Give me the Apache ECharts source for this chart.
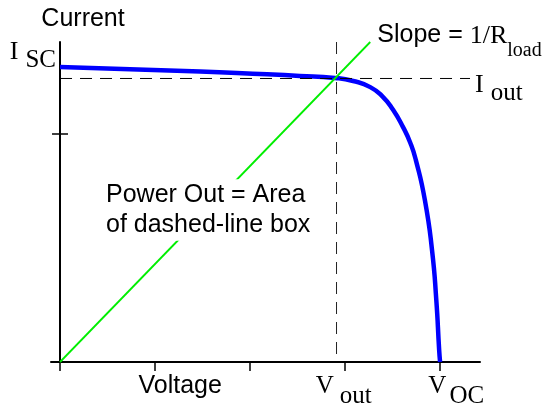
<!DOCTYPE html>
<html>
<head>
<meta charset="utf-8">
<script src="https://cdn.jsdelivr.net/npm/echarts@6/dist/echarts.min.js"></script>
<style>
  html, body { margin: 0; padding: 0; background: #fff; }
  #main { width: 546px; height: 409px; }
</style>
</head>
<body>
<div id="main"></div>
<script>
// I-V curve of a solar cell, arbitrary units
var curveV = [0, 29.5, 50.5, 57.9, 61.7, 65.3, 68.0, 70.1, 72.2, 73.7, 74.9, 76.8, 78.3, 79.2, 79.8, 80];
var curveI = [92.2, 90.8, 89.4, 88.75, 87.8, 85.9, 82.8, 78.8, 73.4, 68.6, 63.1, 50.6, 35.0, 19.4, 3.8, 0];
var loadV = [0, 65.3];
var loadI = [0, 100];
var vOut = 58.2, iOut = 88.6;
var boxEndV = 86.3;
var xTicks = [0, 20, 40, 60, 80];
var yTicks = [71.25];
var xLabelPos = [25.3, 59.7, 83.4];
var xLabelText = ['{s|Voltage}', '{v|V}{sub|out}', '{v|V}{sub2|OC}'];

var sans = 'Liberation Sans', serif = 'Liberation Serif';

function pairs(xs, ys) {
    return xs.map(function (x, i) { return [x, ys[i]]; });
}

var myChart = echarts.init(document.getElementById('main'));

var option = {
    animation: false,
    grid: { left: 51, right: 66, top: 42, bottom: 47, outerBoundsMode: 'none' },
    xAxis: [{
        type: 'value', min: -1.9, max: 88.4,
        axisLine: { onZero: true, lineStyle: { color: '#000', width: 2 } },
        axisTick: { show: true, length: 8, customValues: xTicks, lineStyle: { color: '#000', width: 1.5 } },
        splitLine: { show: false },
        axisLabel: {
            show: true, margin: 12, customValues: xLabelPos,
            formatter: function (v) { return xLabelText[xLabelPos.indexOf(v)] || ''; },
            rich: {
                s: { fontFamily: sans, fontSize: 25, lineHeight: 25, color: '#000', verticalAlign: 'top' },
                v: { fontFamily: serif, fontSize: 25, lineHeight: 25, color: '#000', verticalAlign: 'top' },
                sub: { fontFamily: serif, fontSize: 25, lineHeight: 35, color: '#000', verticalAlign: 'bottom', padding: [0, 0, 0, 6] },
                sub2: { fontFamily: serif, fontSize: 25, lineHeight: 35, color: '#000', verticalAlign: 'bottom', padding: [0, 0, 0, 3] }
            }
        }
    }, {
        type: 'value', min: -1.9, max: 88.4,
        axisLine: { show: false },
        axisTick: { show: true, inside: true, length: 9, customValues: xTicks, lineStyle: { color: '#000', width: 1.5 } },
        splitLine: { show: false },
        axisLabel: { show: false }
    }],
    yAxis: [{
        type: 'value', min: 0, max: 100,
        name: 'Current', nameLocation: 'end', nameGap: 10, nameMoveOverlap: false,
        nameTextStyle: {
            fontFamily: sans, fontSize: 25, lineHeight: 25, color: '#000',
            align: 'center', verticalAlign: 'bottom', padding: [0, 0, 0, 46]
        },
        axisLine: { onZero: true, lineStyle: { color: '#000', width: 2 } },
        axisTick: { show: true, length: 8, customValues: yTicks, lineStyle: { color: '#000', width: 1.5 } },
        splitLine: { show: false },
        axisLabel: {
            show: true, margin: -5, customValues: [95.7],
            formatter: function () { return '{v|I}{sub|SC}'; },
            rich: {
                v: { fontFamily: serif, fontSize: 26, lineHeight: 26, color: '#000', verticalAlign: 'top' },
                sub: { fontFamily: serif, fontSize: 25, lineHeight: 34, color: '#000', verticalAlign: 'bottom', padding: [0, 0, 0, 7] }
            }
        }
    }, {
        type: 'value', min: 0, max: 100, position: 'left',
        axisLine: { show: false, onZero: true },
        axisTick: { show: true, inside: true, length: 8, customValues: yTicks, lineStyle: { color: '#000', width: 1.5 } },
        splitLine: { show: false },
        axisLabel: { show: false }
    }],
    graphic: [{
        type: 'text', x: 104, y: 194.7, z: 100,
        style: {
            text: 'Power Out = Area', font: '25px "Liberation Sans"', fill: '#000',
            verticalAlign: 'middle', backgroundColor: '#fff', padding: [4, 2, 2, 2]
        }
    }, {
        type: 'text', x: 104, y: 224.7, z: 100,
        style: {
            text: 'of dashed-line box', font: '25px "Liberation Sans"', fill: '#000',
            verticalAlign: 'middle', backgroundColor: '#fff', padding: [1, 2, 6, 2]
        }
    }],
    series: [{
        name: 'I-V', type: 'line', smooth: 0.55, symbol: 'none',
        data: pairs(curveV, curveI),
        lineStyle: { color: '#0000ff', width: 4.5 }
    }, {
        name: 'Vout', type: 'line', symbol: 'none',
        data: [[vOut, 100], [vOut, 0]],
        lineStyle: { color: '#222', width: 1, type: [12, 8] }
    }, {
        name: 'Iout', type: 'line', symbol: 'none',
        data: [[0, iOut], [boxEndV, iOut]],
        lineStyle: { color: '#000', width: 1, type: [12, 8] },
        endLabel: {
            show: true, distance: 5,
            formatter: function () { return '{v|I}{sub|out}'; },
            padding: [21, 0, 0, 0],
            rich: {
                v: { fontFamily: serif, fontSize: 26, lineHeight: 26, color: '#000', verticalAlign: 'top' },
                sub: { fontFamily: serif, fontSize: 25, lineHeight: 34, color: '#000', verticalAlign: 'bottom', padding: [0, 0, 0, 7] }
            }
        }
    }, {
        name: 'Load', type: 'line', symbol: 'none',
        data: pairs(loadV, loadI),
        lineStyle: { color: '#00ee00', width: 1.8 },
        endLabel: {
            show: true, distance: 7, offset: [0, 0],
            formatter: function () { return '{s|Slope = }{v|1/R}{sub|load}'; },
            rich: {
                s: { fontFamily: sans, fontSize: 25, lineHeight: 25, color: '#000', verticalAlign: 'top' },
                v: { fontFamily: serif, fontSize: 26, lineHeight: 25, color: '#000', verticalAlign: 'top' },
                sub: { fontFamily: serif, fontSize: 20, lineHeight: 38, color: '#000', verticalAlign: 'bottom' }
            }
        }
    }]
};
myChart.setOption(option);
</script>
</body>
</html>
